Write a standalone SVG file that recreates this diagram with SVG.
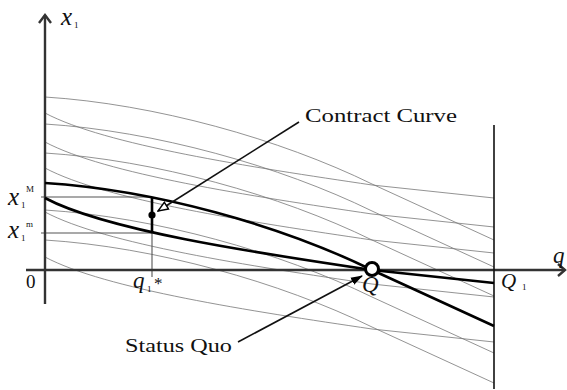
<svg xmlns="http://www.w3.org/2000/svg" xmlns:xlink="http://www.w3.org/1999/xlink" width="567" height="390" viewBox="0 0 567 390">
<style>
.thin{fill:none;stroke:#777;stroke-width:0.8}
.thick{fill:none;stroke:#000;stroke-width:2.6}
.axis{fill:none;stroke:#333;stroke-width:2.4}
.guide{fill:none;stroke:#555;stroke-width:1.1}
.lbl{font-family:"Liberation Serif","Times New Roman",serif;fill:#111}
.it{font-style:italic}
</style>
<defs>
<path id="tc" d="M45,0 C155,7 280,42 372,87 L494,143"/>
<path id="sc" d="M45,0 C105,32 250,54 372,72 L494,85"/>
<marker id="openhead" viewBox="0 0 12 10" refX="11" refY="5" markerWidth="12" markerHeight="10" markerUnits="userSpaceOnUse" orient="auto">
<path d="M1,1 L11,5 L1,9 Z" fill="#fff" stroke="#000" stroke-width="1.4"/>
</marker>
<marker id="fillhead" viewBox="0 0 12 10" refX="11" refY="5" markerWidth="12" markerHeight="10" markerUnits="userSpaceOnUse" orient="auto">
<path d="M0,1 L12,5 L0,9 Z" fill="#000"/>
</marker>
</defs>
<rect width="567" height="390" fill="#fff"/>
<g id="indifference-curves" class="thin">
<use xlink:href="#tc" href="#tc" transform="translate(0,97)"/>
<use xlink:href="#tc" href="#tc" transform="translate(0,124)"/>
<use xlink:href="#tc" href="#tc" transform="translate(0,153)"/>
<use xlink:href="#tc" href="#tc" transform="translate(0,210)"/>
<use xlink:href="#tc" href="#tc" transform="translate(0,240)"/>
<use xlink:href="#sc" href="#sc" transform="translate(0,113)"/>
<use xlink:href="#sc" href="#sc" transform="translate(0,142)"/>
<use xlink:href="#sc" href="#sc" transform="translate(0,168)"/>
<use xlink:href="#sc" href="#sc" transform="translate(0,212)"/>
<use xlink:href="#sc" href="#sc" transform="translate(0,257)"/>
</g>
<g id="guides" class="guide">
<line x1="41" y1="197" x2="152" y2="197"/>
<line x1="41" y1="233" x2="152" y2="233"/>
<line x1="152" y1="233" x2="152" y2="277"/>
</g>
<g id="axes">
<line class="axis" x1="45" y1="15" x2="45" y2="304"/>
<path class="axis" d="M39,23 L45,15 L51,23" stroke-width="2"/>
<line class="axis" x1="26" y1="270" x2="565" y2="270"/>
<path class="axis" d="M558,264 L565,270 L558,276" stroke-width="1.6"/>
<line x1="494" y1="125" x2="494" y2="389" stroke="#111" stroke-width="1.6"/>
</g>
<g id="thick-curves" class="thick">
<path d="M45,183 C155,190 280,225 372,270 L494,326"/>
<path d="M45,198 C105,230 250,252 372,270 L494,283"/>
<line x1="152" y1="198" x2="152" y2="233"/>
</g>
<g id="point-x">
<circle cx="152" cy="215" r="3.6" fill="#000"/>
</g>
<g id="status-quo-point">
<circle cx="372" cy="269" r="6.5" fill="#fff" stroke="#000" stroke-width="3"/>
</g>
<g id="connectors" fill="none" stroke="#111" stroke-width="1.6">
<line x1="299" y1="122" x2="158" y2="211" marker-end="url(#openhead)"/>
<line x1="238" y1="342" x2="362" y2="276" marker-end="url(#fillhead)"/>
</g>
<g id="labels" class="lbl">
<text class="it" x="61" y="25" font-size="25">x</text>
<text x="74" y="28" font-size="9">1</text>
<text class="it" x="8" y="205" font-size="25">x</text>
<text x="21" y="208" font-size="9">1</text>
<text x="26" y="192" font-size="9">M</text>
<text class="it" x="8" y="238" font-size="25">x</text>
<text x="21" y="241" font-size="9">1</text>
<text x="26" y="227" font-size="9">m</text>
<text x="26" y="288" font-size="19">0</text>
<text class="it" x="133" y="288" font-size="23">q</text>
<text x="147" y="292" font-size="9">1</text>
<text x="154" y="289" font-size="17">*</text>
<text class="it" x="362" y="292" font-size="23">Q</text>
<text class="it" x="501" y="288" font-size="21">Q</text>
<text x="522" y="290" font-size="9">1</text>
<text class="it" x="553" y="263" font-size="23">q</text>
<text id="contract-curve-label" x="305" y="122" font-size="19" textLength="152" lengthAdjust="spacingAndGlyphs">Contract Curve</text>
<text id="status-quo-label" x="125" y="352" font-size="19" textLength="107" lengthAdjust="spacingAndGlyphs">Status Quo</text>
</g>
</svg>
